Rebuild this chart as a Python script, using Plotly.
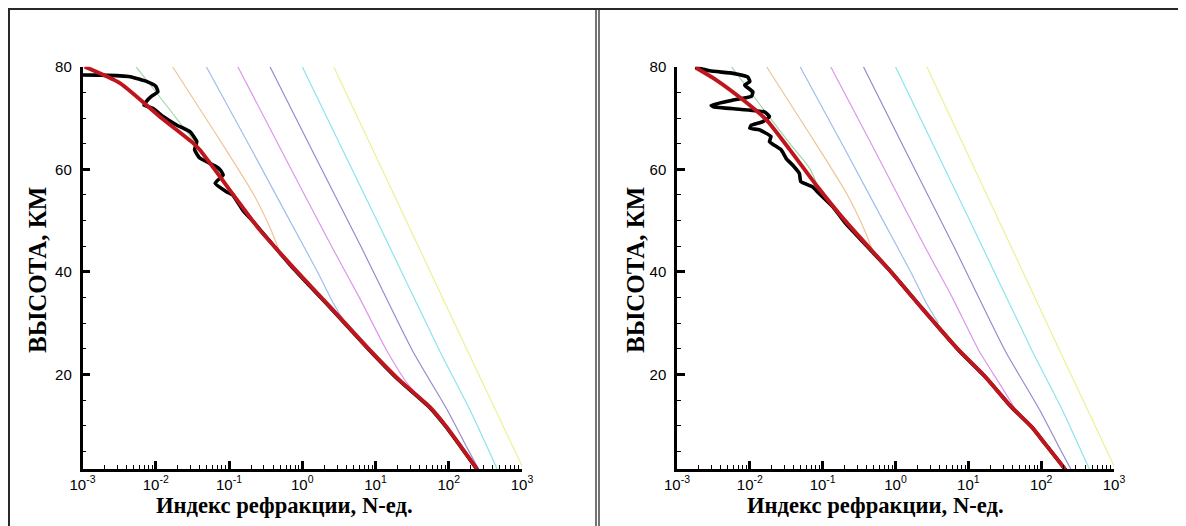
import plotly.graph_objects as go

W, H = 1186, 526

# ---------------- data (height km, refractivity N-units) ----------------
red_left_h = [80.0, 76.8, 70.2, 65.1, 63.8, 58.5, 56.0, 48.2, 41.0, 33.2, 24.8, 19.0, 13.7, 9.8, 1.7, 1.0]
red_left_n = [0.00107, 0.00324, 0.0115, 0.0324, 0.0398, 0.0759, 0.102, 0.263, 0.741, 2.40, 8.32, 20.9, 55.0, 93.3, 240, 257]

black_left_h = [78.4, 78.35, 78.05, 77.1, 76.2, 75.1, 74.2, 73.2, 72.5, 71.9, 70.3, 68.6, 67.3, 65.4, 63.8, 62.2,
                60.5, 59.9, 58.9, 57.3, 55.6, 55.0, 52.0, 49.8, 41.0, 33.2, 24.8, 19.0, 13.7, 9.8, 1.7, 1.0]
black_left_n = [0.0005, 0.00178, 0.00447, 0.00759, 0.0100, 0.0107, 0.00871, 0.00741, 0.00692, 0.00912, 0.0126,
                0.0195, 0.0295, 0.0363, 0.0339, 0.0398, 0.0676, 0.0759, 0.0832, 0.0646, 0.0933, 0.112, 0.155,
                0.214, 0.72, 2.35, 8.2, 20.5, 54.0, 92.0, 238, 255]

red_right_h = [79.8, 77.4, 73.5, 69.6, 63.8, 56.6, 50.1, 40.0, 33.0, 24.8, 19.6, 13.7, 9.8, 6.6, 1.7, 1.0]
red_right_n = [0.00182, 0.00347, 0.00813, 0.0170, 0.0355, 0.0851, 0.200, 0.871, 2.29, 7.35, 17.0, 38.9, 74.1,
               112, 209, 224]

black_right_h = [79.9, 79.2, 78.7, 78.0, 77.1, 76.4, 75.1, 74.2, 73.5, 72.5, 72.2, 71.7, 71.2, 70.3, 69.3, 68.6,
                 68.0, 67.7, 66.4, 65.4, 63.8, 62.1, 60.8, 59.2, 57.6, 56.6, 55.6, 52.7, 49.5, 40.0, 33.0, 24.8,
                 19.6, 13.7, 9.8, 6.6, 1.7, 1.0]
black_right_n = [0.00178, 0.00282, 0.00589, 0.00933, 0.0100, 0.00851, 0.0110, 0.0105, 0.00589, 0.00295, 0.00316,
                 0.00724, 0.0158, 0.0186, 0.0151, 0.0105, 0.0100, 0.0135, 0.0195, 0.0186, 0.0269, 0.0316, 0.0389,
                 0.0479, 0.0501, 0.0724, 0.0851, 0.138, 0.205, 0.87, 2.29, 7.3, 17.0, 38.9, 74.0, 112, 209, 224]

# model curves (thin pastel lines)
green_h = [80, 72, 65, 60, 56.5]
green_n = [0.00537, 0.0148, 0.0355, 0.0676, 0.100]
green_right_h = [80, 72, 65, 60, 55.5]
green_right_n = [0.00560, 0.0148, 0.0355, 0.0676, 0.092]
orange_h = [80, 70, 63.8, 55, 48, 44]
orange_n = [0.0170, 0.0479, 0.0912, 0.219, 0.380, 0.490]
lblue_h = [80, 63.8, 50, 40, 34, 30]
lblue_n = [0.0490, 0.204, 0.676, 1.62, 2.63, 3.89]
magenta_h = [80, 63.8, 45, 35, 24.8, 18, 14.5]
magenta_n = [0.132, 0.513, 2.51, 6.03, 14.1, 28.2, 47.9]
magenta_right_h = [80, 63.8, 45, 35, 24.8, 18, 12.5]
magenta_right_n = [0.129, 0.513, 2.51, 6.03, 13.8, 27.5, 47.9]
purple_h = [80, 63.8, 45, 24.8, 13.1, 6, 1.0]
purple_n = [0.363, 1.35, 6.31, 31.6, 95.5, 174, 269]
cyan_h = [80, 50, 24.8, 13.1, 1.0]
cyan_n = [1.0, 10.5, 74.1, 195, 479]
yellow_h = [80, 50, 24.8, 1.0]
yellow_n = [2.69, 26.3, 178, 1096]

x_tickvals = [0.001, 0.01, 0.1, 1, 10, 100, 1000]
x_ticktext = ["10<sup>-3</sup>", "10<sup>-2</sup>", "10<sup>-1</sup>", "10<sup>0</sup>",
              "10<sup>1</sup>", "10<sup>2</sup>", "10<sup>3</sup>"]
y_tickvals = [20, 40, 60, 80]
x_title = "<b>Индекс рефракции, N-ед.</b>"
y_title = "<b>ВЫСОТА, КМ</b>"

COL = dict(green="rgb(160,215,170)", orange="rgb(240,195,150)", lblue="rgb(160,190,235)",
           magenta="rgb(220,150,235)", purple="rgb(150,140,205)", cyan="rgb(140,228,238)",
           yellow="rgb(238,240,150)")

left_models = [(green_h, green_n, "green"), (orange_h, orange_n, "orange"), (lblue_h, lblue_n, "lblue"),
               (magenta_h, magenta_n, "magenta"), (purple_h, purple_n, "purple"), (cyan_h, cyan_n, "cyan"),
               (yellow_h, yellow_n, "yellow")]
right_models = [(green_right_h, green_right_n, "green"), (orange_h, orange_n, "orange"),
                (lblue_h, lblue_n, "lblue"), (magenta_right_h, magenta_right_n, "magenta"),
                (purple_h, purple_n, "purple"), (cyan_h, cyan_n, "cyan"), (yellow_h, yellow_n, "yellow")]

RED = "rgb(190,22,28)"

# The page body shifts the figure by 8px; convert target screen pixels to paper fractions.
OFF = 8.0


def fx(px):
    return (px - OFF) / W


def fy(py):
    return 1 - (py - OFF) / H


fig = go.Figure()

panels = [
    ("x", "y", left_models, black_left_h, black_left_n, red_left_h, red_left_n),
    ("x2", "y2", right_models, black_right_h, black_right_n, red_right_h, red_right_n),
]
for xa, ya, models, bh, bn, rh, rn in panels:
    for ch, cn, cname in models:
        fig.add_trace(go.Scatter(x=cn, y=ch, mode="lines", xaxis=xa, yaxis=ya,
                                 line=dict(color=COL[cname], width=1.2, shape="spline", smoothing=0.6),
                                 hoverinfo="skip"))
    fig.add_trace(go.Scatter(x=bn, y=bh, mode="lines", xaxis=xa, yaxis=ya,
                             line=dict(color="black", width=3.6, shape="spline", smoothing=0.4),
                             hoverinfo="skip"))
    fig.add_trace(go.Scatter(x=rn, y=rh, mode="lines", xaxis=xa, yaxis=ya,
                             line=dict(color=RED, width=3.9, shape="spline", smoothing=0.6),
                             hoverinfo="skip"))

minor_x = [d * 10.0 ** k for k in range(-3, 3) for d in range(2, 10)]
tick_font = dict(family="Liberation Sans", size=15, color="black")


def xaxis_cfg(domain, anchor):
    return dict(domain=domain, anchor=anchor, type="log", range=[-3, 3], automargin=False,
                tickmode="array", tickvals=x_tickvals, ticktext=x_ticktext,
                ticks="inside", ticklen=8, tickwidth=2.5, tickcolor="black",
                minor=dict(tickmode="array", tickvals=minor_x, ticks="inside", ticklen=4,
                           tickwidth=1, tickcolor="black", showgrid=False),
                showline=True, linewidth=2.5, linecolor="black", mirror=False,
                showgrid=False, zeroline=False, tickfont=tick_font)


def yaxis_cfg(domain, anchor):
    return dict(domain=domain, anchor=anchor, range=[1.6, 80], automargin=False,
                tickmode="array", tickvals=y_tickvals,
                ticks="inside", ticklen=8, tickwidth=2.5, tickcolor="black",
                minor=dict(dtick=5, tick0=0, ticks="inside", ticklen=4, tickwidth=1,
                           tickcolor="black", showgrid=False),
                showline=True, linewidth=2.5, linecolor="black", mirror=False,
                showgrid=False, zeroline=False, ticklabelstandoff=5, tickfont=tick_font)


ydom = [fy(469), fy(66.7)]
fig.update_layout(
    width=W, height=H, margin=dict(l=0, r=0, t=0, b=0, pad=0, autoexpand=False),
    paper_bgcolor="white", plot_bgcolor="white", showlegend=False,
    xaxis=xaxis_cfg([fx(82.5), fx(522)], "y"),
    yaxis=yaxis_cfg(ydom, "x"),
    xaxis2=xaxis_cfg([fx(677), fx(1114)], "y2"),
    yaxis2=yaxis_cfg(ydom, "x2"),
)

xt_font = dict(family="Liberation Serif", size=22.6, color="black")
yt_font = dict(family="Liberation Serif", size=25, color="black")
annotations = []
for cx in (284, 875):
    annotations.append(dict(text=x_title, xref="paper", yref="paper", x=fx(cx), y=fy(505),
                            xanchor="center", yanchor="middle", showarrow=False, font=xt_font))
for cx in (38, 636):
    annotations.append(dict(text=y_title, xref="paper", yref="paper", x=fx(cx), y=fy(270),
                            xanchor="center", yanchor="middle", showarrow=False, textangle=-90,
                            font=yt_font))
fig.update_layout(annotations=annotations)

# table-like frame lines
frame_col = "rgb(40,40,40)"
shapes = [
    dict(type="line", xref="paper", yref="paper", x0=0, x1=1, y0=1 - 1 / H, y1=1 - 1 / H,
         line=dict(color=frame_col, width=2)),
    dict(type="line", xref="paper", yref="paper", x0=1 / W, x1=1 / W, y0=0, y1=1,
         line=dict(color=frame_col, width=2)),
    dict(type="line", xref="paper", yref="paper", x0=fx(596), x1=fx(596), y0=0, y1=1,
         line=dict(color=frame_col, width=1.3)),
    dict(type="line", xref="paper", yref="paper", x0=fx(599), x1=fx(599), y0=0, y1=1,
         line=dict(color=frame_col, width=1.3)),
]
fig.update_layout(shapes=shapes)

fig.write_html("out.html")
